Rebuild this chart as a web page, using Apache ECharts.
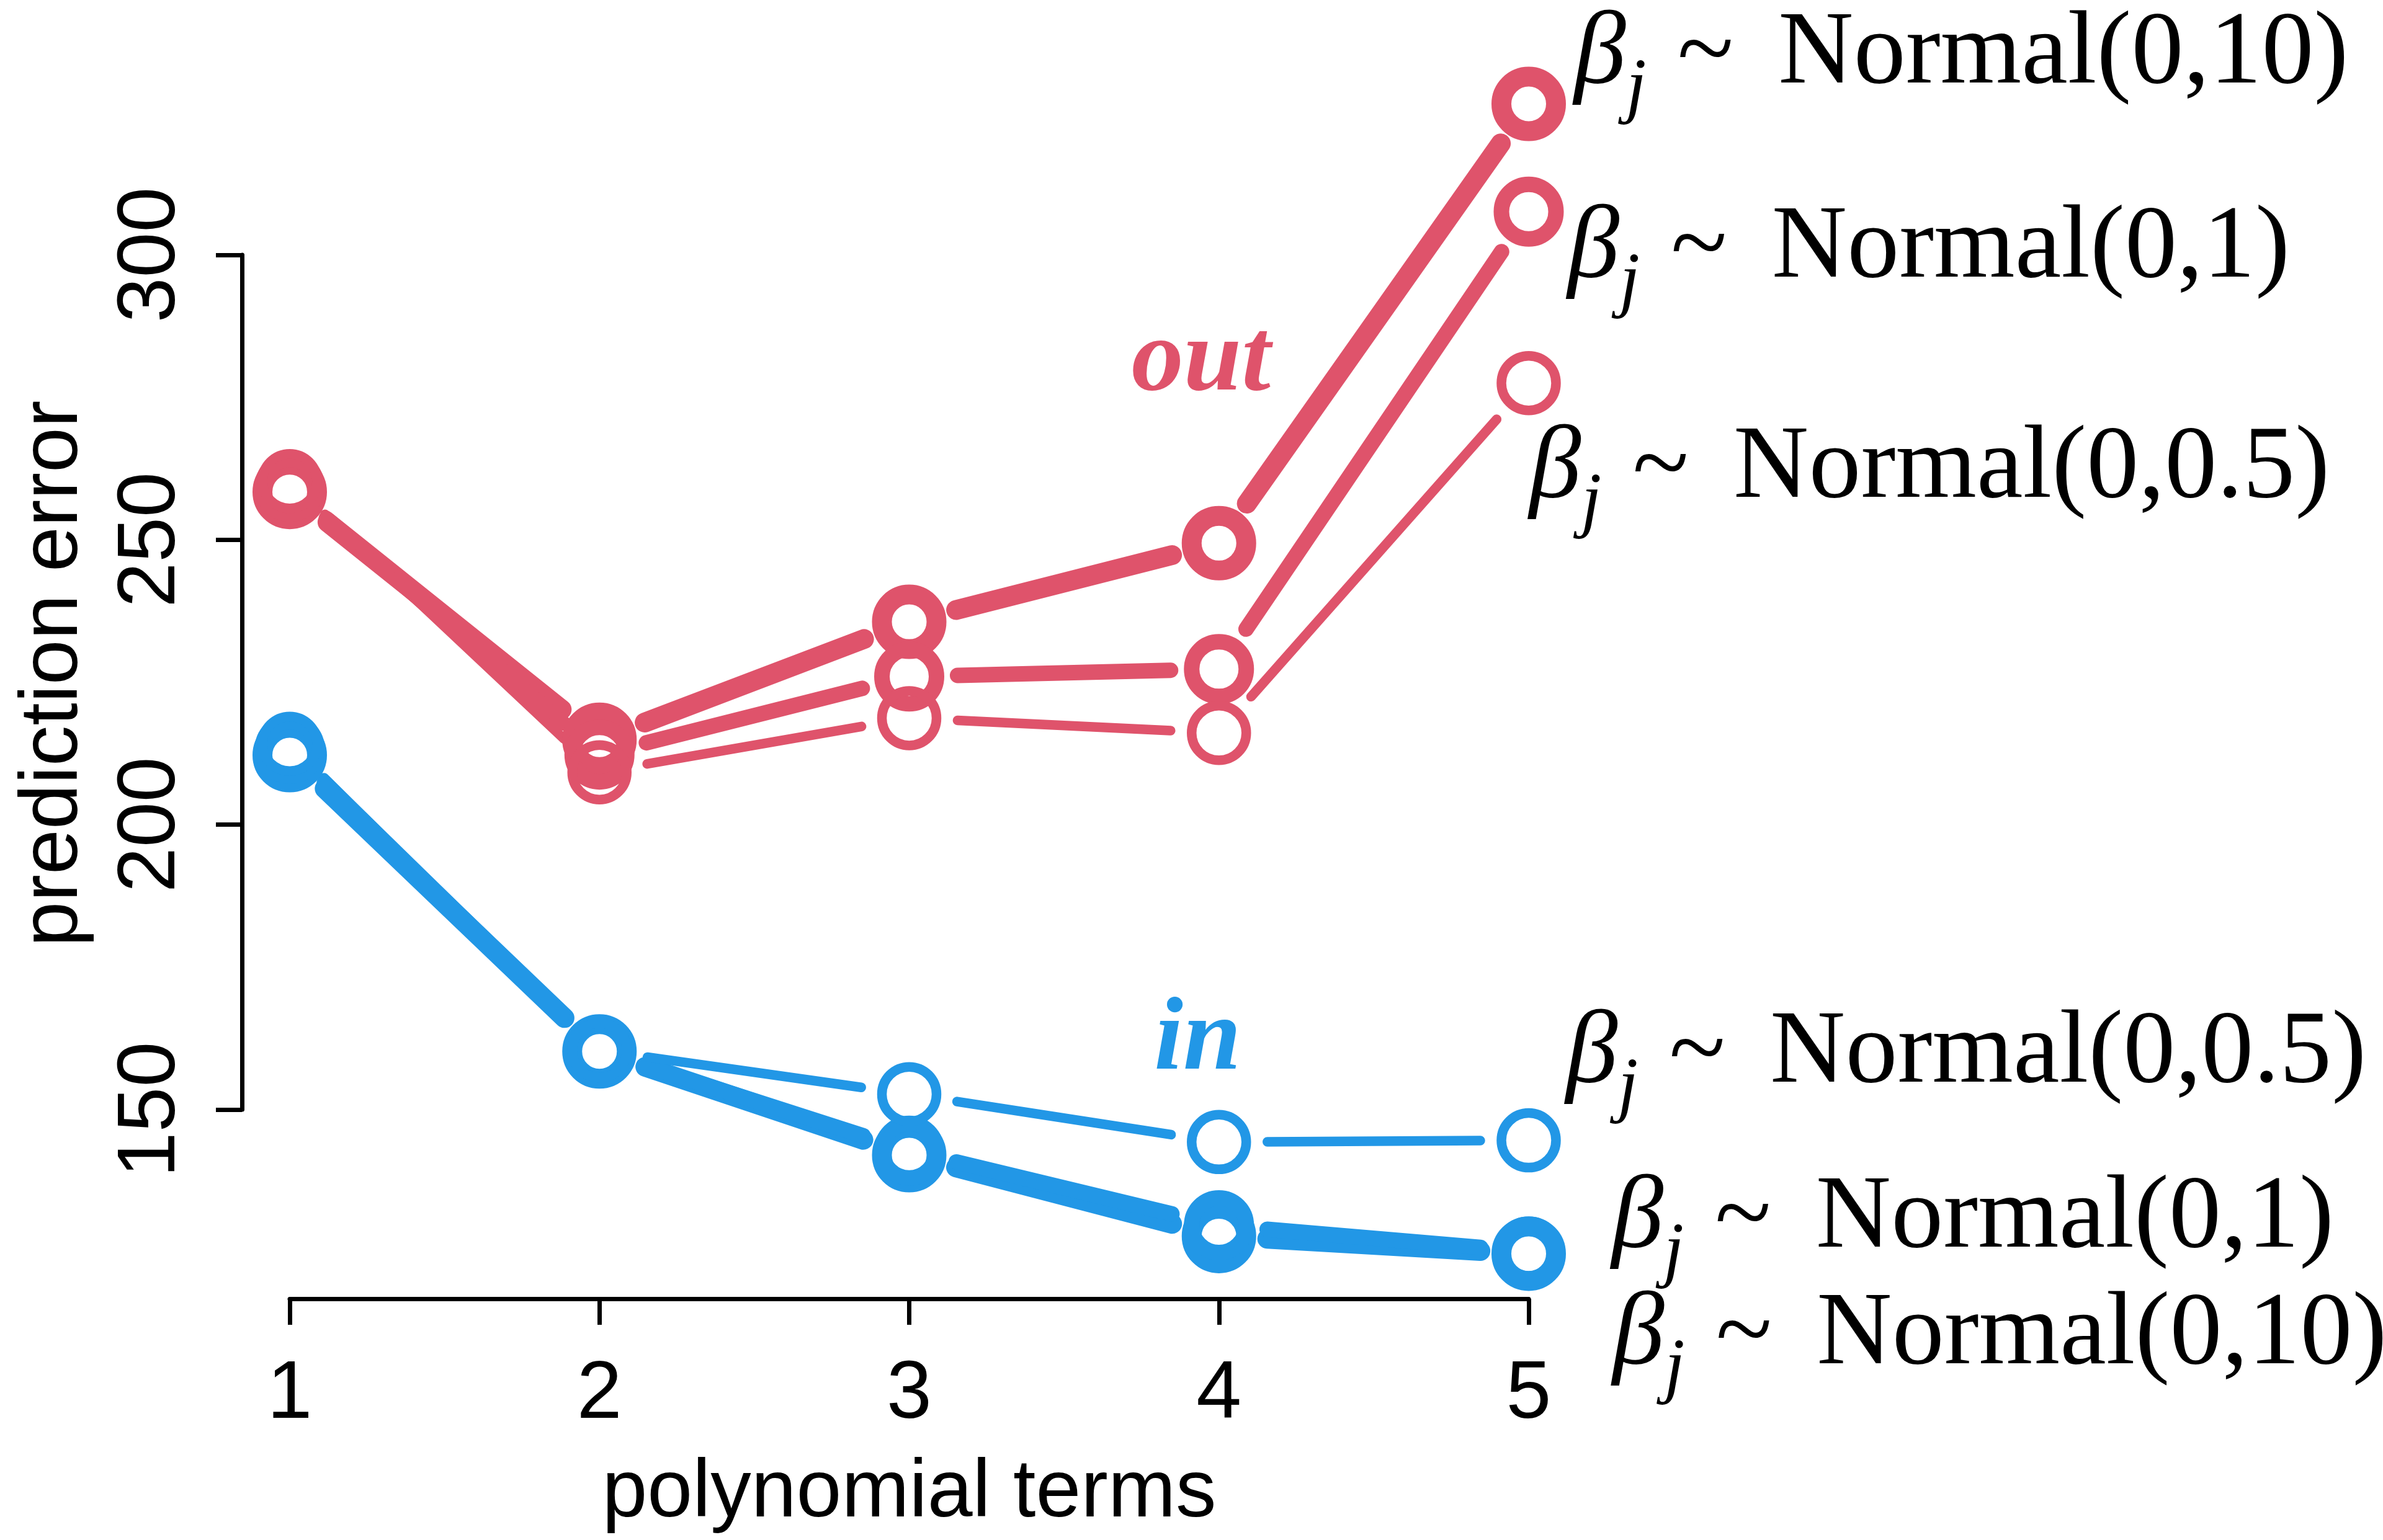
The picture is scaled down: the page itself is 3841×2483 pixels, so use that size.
<!DOCTYPE html>
<html><head><meta charset="utf-8">
<script src="https://cdn.jsdelivr.net/npm/echarts@6/dist/echarts.min.js"></script>
<style>html,body{margin:0;padding:0;background:#fff;} #c{width:3841px;height:2483px;}</style>
</head><body><div id="c"></div>
<script>
// ---- data ----
const terms = [1, 2, 3, 4, 5];
const outNormal10  = [258.4, 214.9, 235.6, 249.4, 326.5];
const outNormal1   = [259.3, 212.3, 226.0, 227.3, 307.6];
const outNormal05  = [260.3, 209.2, 218.7, 216.1, 277.5];
const inNormal10   = [212.2, 160.2, 142.0, 127.8, 124.7];
const inNormal1    = [213.3, 160.3, 142.8, 129.7, 125.1];
const inNormal05   = [214.2, 160.4, 152.7, 144.3, 144.6];
const priorNames = ['Normal(0,10)', 'Normal(0,1)', 'Normal(0,0.5)'];
const yTicks = [150, 200, 250, 300];
const xTicks = [1, 2, 3, 4, 5];
const annotText = ['out', 'in'];
const annotX = [3.943, 3.932];
const annotY = [281.1, 161.9];

// ---- styles ----
const RED = '#DF536B', BLUE = '#2297E6';
const GAP = 78;
const SERIF = 'Liberation Serif';
const SANS = 'Liberation Sans';

function segData(vals) {
  const d = [];
  for (let i = 0; i < vals.length - 1; i++) d.push([terms[i], vals[i], terms[i + 1], vals[i + 1]]);
  return d;
}
function segSeries(vals, color, w) {
  return {
    type: 'custom', clip: false, silent: true, z: 2,
    encode: { x: [0, 2], y: [1, 3] },
    data: segData(vals),
    renderItem: function (params, api) {
      const p1 = api.coord([api.value(0), api.value(1)]);
      const p2 = api.coord([api.value(2), api.value(3)]);
      const dx = p2[0] - p1[0], dy = p2[1] - p1[1];
      const len = Math.hypot(dx, dy);
      if (len <= 2 * GAP) return null;
      const ux = dx / len, uy = dy / len;
      return {
        type: 'line',
        shape: { x1: p1[0] + ux * GAP, y1: p1[1] + uy * GAP, x2: p2[0] - ux * GAP, y2: p2[1] - uy * GAP },
        style: { stroke: color, lineWidth: w, lineCap: 'round' }
      };
    }
  };
}
const richStyle = {
  b: { fontFamily: SERIF, fontStyle: 'italic', fontSize: 168, lineHeight: 230, color: '#000' },
  j: { fontFamily: SERIF, fontStyle: 'italic', fontSize: 118, lineHeight: 120, verticalAlign: 'bottom', color: '#000' },
  s: { fontFamily: SERIF, fontSize: 168, lineHeight: 230, color: '#000', padding: [0, 72, 0, 50] },
  t: { fontFamily: SERIF, fontSize: 168, lineHeight: 230, color: '#000' }
};
function ringSeries(vals, color, w, name, dx, dy) {
  const data = vals.map((v, i) => {
    const item = { value: [terms[i], v] };
    if (i === vals.length - 1) {
      item.label = {
        show: true, position: 'right', distance: 0, offset: [dx, dy],
        formatter: '{b|β}{j|j}{s|~}{t|' + name + '}',
        rich: richStyle
      };
    }
    return item;
  });
  return {
    type: 'scatter', clip: false, silent: true, z: 3,
    symbol: 'circle', symbolSize: 88,
    itemStyle: { color: 'rgba(0,0,0,0)', borderColor: color, borderWidth: w, opacity: 1 },
    label: { show: false },
    data: data
  };
}
function annotSeries(i, color) {
  return {
    type: 'scatter', clip: false, silent: true, z: 4,
    symbol: 'circle', symbolSize: 1,
    itemStyle: { color: 'rgba(0,0,0,0)', opacity: 1 },
    data: [[annotX[i], annotY[i]]],
    label: {
      show: true, position: [0, 0], align: 'center', verticalAlign: 'middle',
      formatter: annotText[i],
      fontFamily: SERIF, fontStyle: 'italic', fontWeight: 'bold', fontSize: 168, color: color,
      textBorderWidth: 0
    }
  };
}

const option = {
  backgroundColor: '#ffffff',
  animation: false,
  grid: { left: 467, right: 3841 - 2464, top: 411, bottom: 2483 - 1789, containLabel: false },
  xAxis: {
    type: 'value', min: 1, max: 5, interval: 1, offset: 305,
    name: 'polynomial terms', nameLocation: 'middle', nameGap: 249,
    nameTextStyle: { fontFamily: SANS, fontSize: 131, color: '#000' },
    axisLine: { show: true, lineStyle: { color: '#000', width: 7 } },
    axisTick: { show: true, length: 42, lineStyle: { color: '#000', width: 7 } },
    axisLabel: { fontFamily: SANS, fontSize: 131, color: '#000', margin: 90,
      formatter: v => xTicks.includes(v) ? String(v) : '' },
    splitLine: { show: false }
  },
  yAxis: {
    type: 'value', min: 150, max: 300, interval: 50, offset: 77,
    name: 'prediction error', nameLocation: 'middle', nameGap: 237, nameRotate: 90,
    nameTextStyle: { fontFamily: SANS, fontSize: 131, color: '#000', padding: [0, 0, 0, 28] },
    axisLine: { show: true, lineStyle: { color: '#000', width: 7 } },
    axisTick: { show: true, length: 42, lineStyle: { color: '#000', width: 7 } },
    axisLabel: { fontFamily: SANS, fontSize: 131, color: '#000', rotate: 90, margin: 80,
      formatter: v => yTicks.includes(v) ? String(v) : '' },
    splitLine: { show: false }
  },
  series: [
    segSeries(outNormal10, RED, 32), segSeries(outNormal1, RED, 25), segSeries(outNormal05, RED, 15.5),
    segSeries(inNormal10, BLUE, 32), segSeries(inNormal1, BLUE, 25), segSeries(inNormal05, BLUE, 15.5),
    ringSeries(outNormal10, RED, 32, priorNames[0], 13, -79),
    ringSeries(outNormal1, RED, 25, priorNames[1], 6, 61),
    ringSeries(outNormal05, RED, 15.5, priorNames[2], -51, 139),
    ringSeries(inNormal10, BLUE, 32, priorNames[0], 75, 132),
    ringSeries(inNormal1, BLUE, 25, priorNames[1], 77, -52),
    ringSeries(inNormal05, BLUE, 15.5, priorNames[2], 8, -139),
    annotSeries(0, RED), annotSeries(1, BLUE)
  ]
};
const chart = echarts.init(document.getElementById('c'));
chart.setOption(option);
</script>
</body></html>
